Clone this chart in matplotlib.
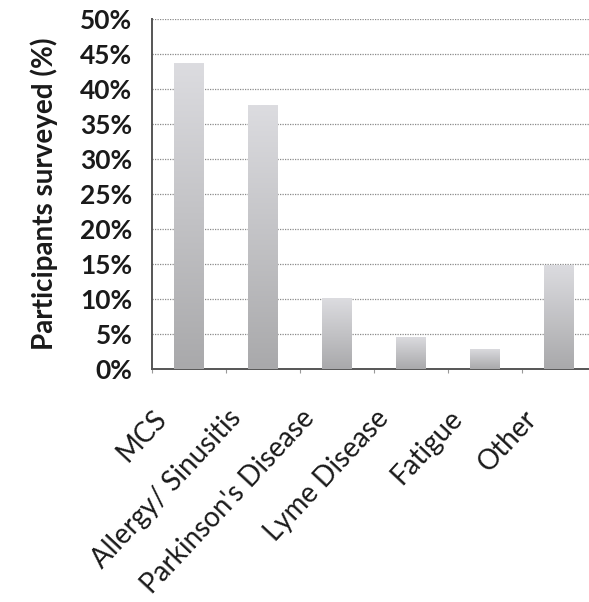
import numpy as np
import matplotlib
matplotlib.use("Agg")
import matplotlib.pyplot as plt
from matplotlib.ticker import FuncFormatter
from matplotlib.colors import LinearSegmentedColormap

categories = ["MCS", "Allergy/ Sinusitis", "Parkinson's Disease", "Lyme Disease", "Fatigue", "Other"]
values = [43.7, 37.7, 10.1, 4.6, 2.9, 14.9]
yticks = list(range(0, 55, 5))

plt.rcParams['font.family'] = ['Lato', 'DejaVu Sans']

fig = plt.figure(figsize=(5.89, 6.02), dpi=100)
ax = fig.add_axes([0.258, 0.387, 0.754, 0.581])

x = np.arange(len(categories))
bar_w = 0.4
bars = ax.bar(x, values, width=bar_w, color="none", edgecolor="none", zorder=3)

# vertical gradient fill for each bar: lighter at the top, darker at the bottom
cmap = LinearSegmentedColormap.from_list("barfill", ["#a9a9ab", "#dcdce0"])
grad = np.linspace(0, 1, 256).reshape(-1, 1)
for b in bars:
    x0, y0 = b.get_x(), b.get_y()
    w, h = b.get_width(), b.get_height()
    im = ax.imshow(grad, cmap=cmap, origin="lower", aspect="auto",
                   extent=[x0, x0 + w, y0, y0 + h], zorder=3)
    im.set_clip_path(b)

ax.set_xlim(-0.5, len(categories) - 0.5)
ax.set_ylim(0, 50)
ax.set_yticks(yticks)
ax.yaxis.set_major_formatter(FuncFormatter(lambda v, p: f"{int(v)}%"))
ax.grid(axis="y", color="#8a8a8a", linestyle=(0, (1, 1)), linewidth=0.9, zorder=1)

# category labels, rotated and set down-left of each bar
ax.set_xticks(np.arange(-0.5, len(categories), 1))
ax.set_xticklabels([])
ax.tick_params(axis="x", length=3, color="#999999")
for i, name in enumerate(categories):
    ax.annotate(name, xy=(i, 0), xycoords=ax.get_xaxis_transform(),
                xytext=(-26, -26), textcoords="offset points",
                rotation=47, ha="right", va="top", rotation_mode="anchor",
                fontsize=20, color="#1a1a1a", annotation_clip=False)

ax.tick_params(axis="y", length=0, labelsize=19, pad=14, colors="#1a1a1a")
for lbl in ax.get_yticklabels():
    lbl.set_fontweight("bold")

for s in ["top", "right"]:
    ax.spines[s].set_visible(False)
for s in ["left", "bottom"]:
    ax.spines[s].set_color("#555555")
    ax.spines[s].set_linewidth(1.4)

ax.set_ylabel("Participants surveyed (%)", fontsize=20, fontweight="bold",
              color="#1a1a1a", labelpad=16)

fig.savefig("out.png", dpi=100)
